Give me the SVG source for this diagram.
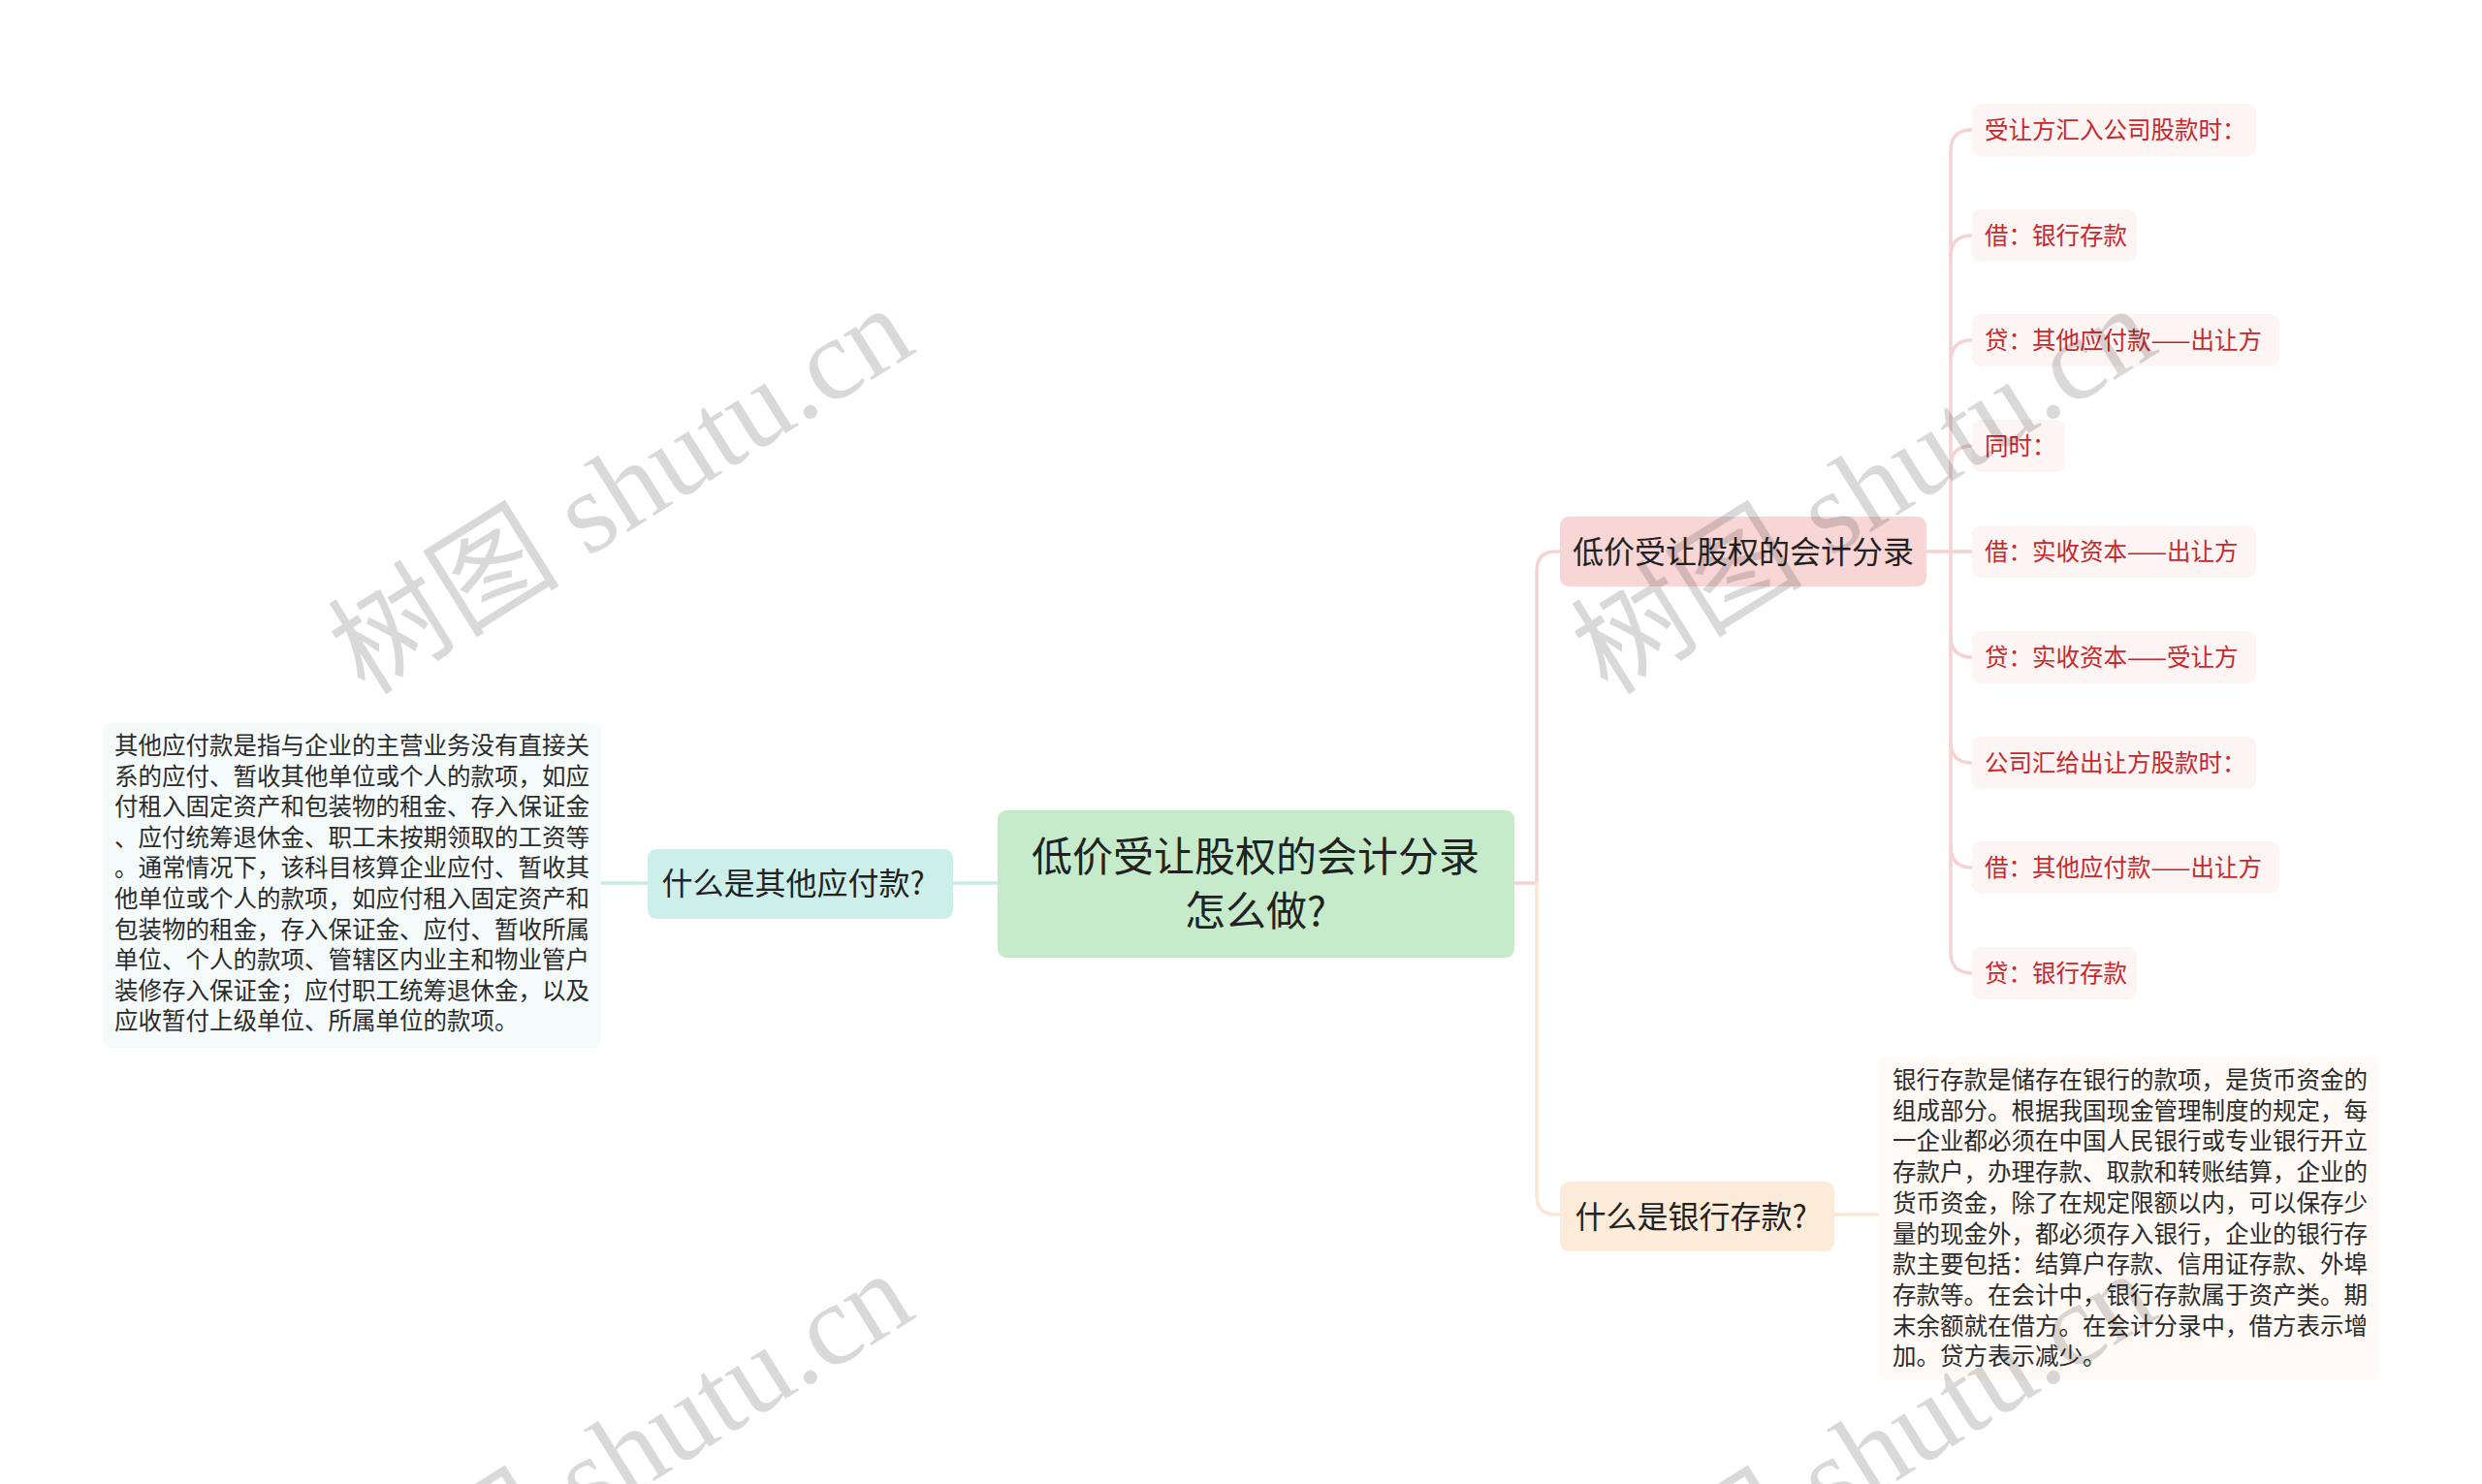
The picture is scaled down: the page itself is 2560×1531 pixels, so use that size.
<svg xmlns="http://www.w3.org/2000/svg" width="2560" height="1531" viewBox="0 0 2560 1531">
<style>
text{font-family:"Noto Sans CJK SC","Noto Sans",sans-serif;}
.c{fill:none;stroke-width:3.5;stroke-linecap:round}
.pk{stroke:#f5d3d3}
.bg{stroke:#fbe7d5}
.tl{stroke:#c6ece6}
.t1{font-size:32px;fill:#222;text-anchor:middle}
.leaf rect{fill:#fdf4f4}
.leaf text{font-size:24.5px;fill:#c8282b}
.body{font-size:24.5px;fill:#2b2b2b}
.wm{font-family:"Liberation Serif","Noto Sans CJK SC",serif;font-size:120px;fill:#000;fill-opacity:0.15;text-anchor:middle}
</style>
<rect width="2560" height="1531" fill="#ffffff"/>
<g id="connectors">
<path class="c pk" d="M1562 911 H1585 V589 Q1585 569 1605 569 H1609"/>
<path class="c bg" d="M1585 911 V1233 Q1585 1253 1605 1253 H1609"/>
<path class="c tl" d="M983 911 H1029"/>
<path class="c tl" d="M620 911 H668"/>
<path class="c bg" d="M1892 1253 H1938"/>
<path class="c pk" d="M1987 569 H2034"/>
<path class="c pk" d="M2012 569 V156 Q2012 134 2034 134"/>
<path class="c pk" d="M2012 265 Q2012 243 2034 243"/>
<path class="c pk" d="M2012 373 Q2012 351 2034 351"/>
<path class="c pk" d="M2012 482 Q2012 460 2034 460"/>
<path class="c pk" d="M2012 569 V982 Q2012 1004 2034 1004"/>
<path class="c pk" d="M2012 656 Q2012 678 2034 678"/>
<path class="c pk" d="M2012 765 Q2012 787 2034 787"/>
<path class="c pk" d="M2012 873 Q2012 895 2034 895"/>
</g>
<g id="root">
<rect x="1029" y="836" width="533" height="152" rx="9" fill="#c5ebca"/>
<text x="1295" y="899" style="font-size:42px;fill:#222;text-anchor:middle">低价受让股权的会计分录</text>
<text x="1295" y="955" style="font-size:42px;fill:#222;text-anchor:middle">怎么做?</text>
</g>
<g id="n-entries">
<rect x="1609" y="533" width="378" height="72" rx="9" fill="#f8d6d6"/>
<text class="t1" x="1798" y="581">低价受让股权的会计分录</text>
</g>
<g id="n-other">
<rect x="668" y="876" width="315" height="72" rx="9" fill="#ccefea"/>
<text class="t1" x="818" y="923">什么是其他应付款?</text>
</g>
<g id="n-other-desc">
<rect x="106" y="746" width="514" height="335" rx="8" fill="#f5fbfa"/>
<text class="body" x="118" y="778">
<tspan x="118" dy="0">其他应付款是指与企业的主营业务没有直接关</tspan>
<tspan x="118" dy="31.6">系的应付、暂收其他单位或个人的款项，如应</tspan>
<tspan x="118" dy="31.6">付租入固定资产和包装物的租金、存入保证金</tspan>
<tspan x="118" dy="31.6">、应付统筹退休金、职工未按期领取的工资等</tspan>
<tspan x="118" dy="31.6">。通常情况下，该科目核算企业应付、暂收其</tspan>
<tspan x="118" dy="31.6">他单位或个人的款项，如应付租入固定资产和</tspan>
<tspan x="118" dy="31.6">包装物的租金，存入保证金、应付、暂收所属</tspan>
<tspan x="118" dy="31.6">单位、个人的款项、管辖区内业主和物业管户</tspan>
<tspan x="118" dy="31.6">装修存入保证金；应付职工统筹退休金，以及</tspan>
<tspan x="118" dy="31.6">应收暂付上级单位、所属单位的款项。</tspan>
</text>
</g>
<g id="n-bank">
<rect x="1609" y="1219" width="283" height="72" rx="9" fill="#fdebda"/>
<text class="t1" x="1744" y="1267">什么是银行存款?</text>
</g>
<g id="n-bank-desc">
<rect x="1938" y="1091" width="516" height="333" rx="8" fill="#fffaf5"/>
<text class="body" x="1952" y="1123">
<tspan x="1952" dy="0">银行存款是储存在银行的款项，是货币资金的</tspan>
<tspan x="1952" dy="31.7">组成部分。根据我国现金管理制度的规定，每</tspan>
<tspan x="1952" dy="31.7">一企业都必须在中国人民银行或专业银行开立</tspan>
<tspan x="1952" dy="31.7">存款户，办理存款、取款和转账结算，企业的</tspan>
<tspan x="1952" dy="31.7">货币资金，除了在规定限额以内，可以保存少</tspan>
<tspan x="1952" dy="31.7">量的现金外，都必须存入银行，企业的银行存</tspan>
<tspan x="1952" dy="31.7">款主要包括：结算户存款、信用证存款、外埠</tspan>
<tspan x="1952" dy="31.7">存款等。在会计中，银行存款属于资产类。期</tspan>
<tspan x="1952" dy="31.7">末余额就在借方。在会计分录中，借方表示增</tspan>
<tspan x="1952" dy="31.7">加。贷方表示减少。</tspan>
</text>
</g>
<g id="leaf1" class="leaf"><rect x="2034" y="107" width="293" height="54" rx="9"/><text x="2047" y="143">受让方汇入公司股款时：</text></g>
<g id="leaf2" class="leaf"><rect x="2034" y="216" width="170" height="54" rx="9"/><text x="2047" y="252">借：银行存款</text></g>
<g id="leaf3" class="leaf"><rect x="2034" y="324" width="317" height="54" rx="9"/><text x="2047" y="360">贷：其他应付款——出让方</text></g>
<g id="leaf4" class="leaf"><rect x="2034" y="433" width="96" height="54" rx="9"/><text x="2047" y="469">同时：</text></g>
<g id="leaf5" class="leaf"><rect x="2034" y="542" width="293" height="54" rx="9"/><text x="2047" y="578">借：实收资本——出让方</text></g>
<g id="leaf6" class="leaf"><rect x="2034" y="651" width="293" height="54" rx="9"/><text x="2047" y="687">贷：实收资本——受让方</text></g>
<g id="leaf7" class="leaf"><rect x="2034" y="760" width="293" height="54" rx="9"/><text x="2047" y="796">公司汇给出让方股款时：</text></g>
<g id="leaf8" class="leaf"><rect x="2034" y="868" width="317" height="54" rx="9"/><text x="2047" y="904">借：其他应付款——出让方</text></g>
<g id="leaf9" class="leaf"><rect x="2034" y="977" width="170" height="54" rx="9"/><text x="2047" y="1013">贷：银行存款</text></g>
<g id="watermarks">
<text class="wm" transform="translate(662 540) rotate(-32)">树图 shutu.cn</text>
<text class="wm" transform="translate(1944 540) rotate(-32)">树图 shutu.cn</text>
<text class="wm" transform="translate(662 1536) rotate(-32)">树图 shutu.cn</text>
<text class="wm" transform="translate(1944 1536) rotate(-32)">树图 shutu.cn</text>
</g>
</svg>
